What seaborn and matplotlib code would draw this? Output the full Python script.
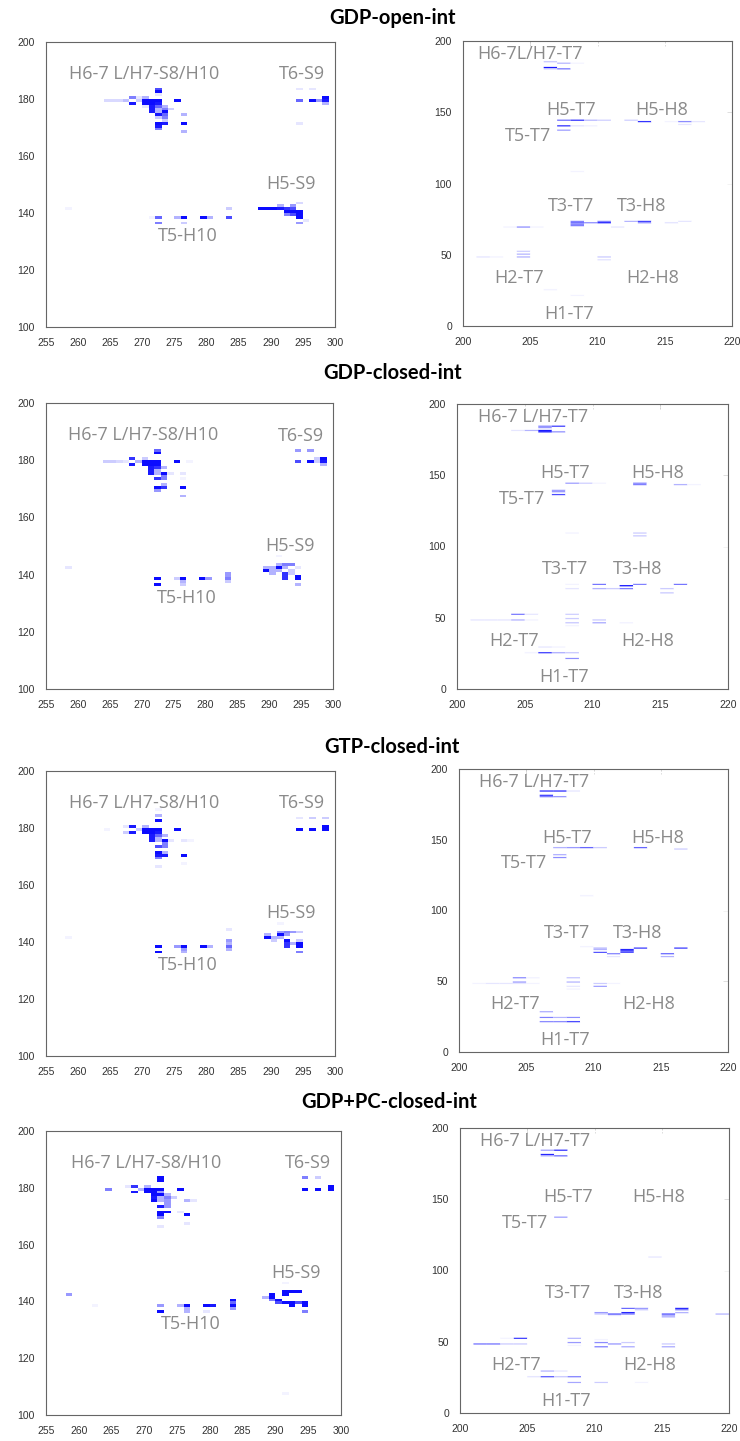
import pandas as pd
import seaborn as sns
import matplotlib.pyplot as plt

# contact cells per panel: (residue x, residue y, contact frequency)
open_s9 = [
    (264, 179, 0.15), (265, 179, 0.15), (266, 179, 0.15), (267, 179, 0.25),
    (268, 180, 0.5), (268, 178, 0.9), (269, 179, 0.2), (269, 180, 0.1),
    (270, 180, 0.3), (270, 179, 0.95), (270, 178, 0.95), (270, 177, 0.1),
    (271, 179, 0.95), (271, 178, 0.95), (271, 177, 0.9), (271, 176, 0.9), (271, 175, 0.9),
    (272, 183, 0.7), (272, 182, 0.95), (272, 181, 0.1), (272, 179, 0.95), (272, 178, 0.9),
    (272, 177, 0.6), (272, 176, 0.3), (272, 175, 0.3), (272, 174, 0.9), (272, 173, 0.2),
    (272, 171, 0.95), (272, 170, 0.9), (272, 169, 0.5),
    (273, 177, 0.3), (273, 176, 0.5), (273, 175, 0.95), (273, 174, 0.6), (273, 173, 0.5),
    (273, 172, 0.2), (273, 171, 0.9), (274, 176, 0.2),
    (275, 179, 0.95), (276, 174, 0.3), (276, 171, 0.95), (276, 168, 0.3),
    (294, 183, 0.1), (294, 179, 0.6), (294, 171, 0.1), (296, 183, 0.1), (296, 179, 0.95),
    (297, 179, 0.4), (298, 180, 0.95), (298, 179, 0.9), (298, 178, 0.3),
    (288, 141, 0.95), (289, 141, 0.95), (290, 141, 0.95), (291, 141, 0.9), (291, 142, 0.3),
    (292, 141, 0.8), (292, 140, 0.95), (292, 139, 0.5), (293, 142, 0.4), (293, 141, 0.7),
    (293, 140, 0.95), (293, 139, 0.7), (294, 143, 0.15), (294, 140, 0.95), (294, 139, 0.95),
    (294, 138, 0.95), (294, 136, 0.4), (295, 137, 0.1),
    (272, 138, 0.6), (272, 136, 0.5), (275, 138, 0.3), (276, 138, 0.95), (276, 136, 0.2),
    (279, 138, 0.95), (280, 138, 0.3), (283, 141, 0.2), (283, 138, 0.7),
    (258, 141, 0.05), (271, 138, 0.05),
]

open_t7 = [
    (206, 185, 0.2), (207, 184, 0.3), (208, 184, 0.05), (206, 181, 0.9), (206, 180, 0.2),
    (207, 180, 0.5),
    (207, 144, 0.6), (208, 144, 0.85), (209, 144, 0.3), (210, 144, 0.2),
    (207, 140, 0.75), (207, 137, 0.4), (208, 140, 0.1), (209, 140, 0.05),
    (212, 144, 0.2), (213, 143, 0.8), (215, 143, 0.05), (216, 143, 0.45), (217, 143, 0.1),
    (216, 141, 0.1), (208, 108, 0.05),
    (203, 69, 0.05), (204, 69, 0.45), (205, 69, 0.05),
    (208, 73, 0.5), (208, 72, 0.55), (208, 71, 0.55), (208, 70, 0.5), (209, 72, 0.4),
    (210, 73, 0.5), (210, 72, 0.8), (211, 69, 0.1), (212, 73, 0.3), (213, 73, 0.75),
    (213, 72, 0.4), (215, 72, 0.1), (216, 73, 0.1),
    (201, 48, 0.1), (202, 48, 0.05), (204, 52, 0.2), (204, 50, 0.3), (204, 48, 0.3),
    (210, 48, 0.2), (210, 46, 0.1), (206, 25, 0.05), (208, 21, 0.05),
]

closed_s9 = [
    (264, 179, 0.2), (265, 179, 0.2), (266, 179, 0.15), (267, 179, 0.1),
    (268, 180, 0.8), (268, 178, 0.9), (269, 179, 0.3), (270, 180, 0.2),
    (270, 179, 0.95), (270, 178, 0.95), (271, 179, 0.95), (271, 178, 0.95),
    (271, 177, 0.9), (271, 176, 0.9), (271, 175, 0.9),
    (272, 183, 0.6), (272, 182, 0.95), (272, 179, 0.95), (272, 178, 0.95), (272, 177, 0.8),
    (272, 176, 0.3), (272, 175, 0.3), (272, 173, 0.8), (272, 170, 0.95), (272, 169, 0.4),
    (273, 177, 0.3), (273, 175, 0.95), (273, 174, 0.5), (273, 173, 0.5), (273, 171, 0.3),
    (273, 170, 0.8), (274, 175, 0.1), (275, 179, 0.95), (276, 175, 0.1), (276, 173, 0.05),
    (276, 170, 0.95), (276, 167, 0.3), (277, 179, 0.05),
    (294, 183, 0.4), (296, 183, 0.4), (294, 179, 0.7), (296, 179, 0.95), (297, 180, 0.2),
    (297, 179, 0.2), (298, 180, 0.95), (298, 179, 0.9), (298, 178, 0.3),
    (289, 141, 0.95), (289, 142, 0.3), (290, 142, 0.3), (290, 141, 0.3), (290, 140, 0.3),
    (291, 143, 0.3), (291, 142, 0.95), (291, 141, 0.3), (292, 143, 0.5), (292, 142, 0.3),
    (292, 140, 0.8), (292, 139, 0.8), (292, 138, 0.8), (293, 143, 0.5), (293, 141, 0.2),
    (293, 140, 0.2), (294, 142, 0.1), (294, 139, 0.95), (294, 138, 0.95), (294, 136, 0.3),
    (291, 146, 0.05),
    (272, 138, 0.95), (272, 136, 0.95), (275, 138, 0.2), (276, 138, 0.95), (276, 137, 0.3),
    (276, 136, 0.2), (279, 138, 0.95), (280, 138, 0.4), (283, 140, 0.4), (283, 139, 0.4),
    (283, 138, 0.5), (283, 137, 0.2), (258, 142, 0.1),
]

closed_t7 = [
    (204, 181, 0.1), (205, 181, 0.3), (206, 184, 0.5), (206, 183, 0.4), (206, 181, 0.9),
    (206, 180, 0.85), (207, 184, 0.8), (207, 180, 0.4),
    (207, 139, 0.4), (207, 138, 0.4), (207, 136, 0.7), (208, 144, 0.4), (209, 144, 0.2),
    (210, 144, 0.05), (213, 144, 0.5), (213, 143, 0.5), (216, 143, 0.3), (217, 143, 0.05),
    (208, 109, 0.05), (213, 109, 0.2), (213, 107, 0.2),
    (208, 73, 0.05), (208, 70, 0.1), (210, 73, 0.55), (210, 70, 0.3), (211, 70, 0.2),
    (212, 72, 0.85), (212, 70, 0.5), (213, 73, 0.5), (215, 70, 0.2), (215, 67, 0.2),
    (216, 73, 0.55),
    (201, 48, 0.1), (202, 48, 0.1), (203, 48, 0.1), (204, 52, 0.55), (204, 48, 0.3),
    (205, 52, 0.1), (205, 48, 0.05), (208, 52, 0.2), (208, 49, 0.2), (208, 46, 0.2),
    (208, 44, 0.05), (210, 48, 0.2), (210, 46, 0.3), (212, 46, 0.05),
    (206, 29, 0.1), (207, 29, 0.05), (205, 25, 0.05), (206, 25, 0.7), (207, 25, 0.3),
    (208, 25, 0.2), (208, 21, 0.45),
]

gtp_s9 = [
    (264, 179, 0.05), (267, 180, 0.1), (267, 178, 0.2), (268, 180, 0.9), (268, 178, 0.9),
    (269, 179, 0.2), (270, 180, 0.3), (270, 179, 0.95), (270, 178, 0.95),
    (271, 179, 0.95), (271, 178, 0.95), (271, 177, 0.9), (271, 176, 0.9), (271, 175, 0.9),
    (272, 186, 0.05), (272, 184, 0.3), (272, 182, 0.95), (272, 179, 0.95), (272, 178, 0.9),
    (272, 177, 0.6), (272, 176, 0.3), (272, 175, 0.3), (272, 173, 0.7), (272, 171, 0.95),
    (272, 170, 0.9), (272, 169, 0.5), (272, 166, 0.1),
    (273, 177, 0.3), (273, 175, 0.95), (273, 174, 0.5), (273, 173, 0.5), (273, 171, 0.3),
    (273, 170, 0.9), (274, 175, 0.1), (275, 179, 0.95), (276, 175, 0.1), (276, 170, 0.95),
    (276, 167, 0.05), (277, 175, 0.05),
    (294, 183, 0.1), (296, 183, 0.2), (298, 183, 0.2), (294, 179, 0.95), (296, 179, 0.95),
    (298, 180, 0.95), (298, 179, 0.95),
    (289, 141, 0.95), (289, 142, 0.3), (290, 141, 0.3), (290, 140, 0.2), (291, 142, 0.95),
    (291, 143, 0.4), (291, 141, 0.3), (292, 143, 0.5), (292, 142, 0.4), (292, 140, 0.95),
    (292, 139, 0.8), (292, 138, 0.8), (293, 143, 0.4), (293, 139, 0.3), (294, 143, 0.2),
    (294, 140, 0.2), (294, 139, 0.95), (294, 138, 0.95), (294, 136, 0.5), (291, 146, 0.05),
    (272, 138, 0.95), (272, 136, 0.95), (275, 138, 0.4), (276, 138, 0.95), (276, 137, 0.4),
    (276, 136, 0.3), (279, 138, 0.95), (280, 138, 0.3), (283, 144, 0.1), (283, 140, 0.4),
    (283, 139, 0.3), (283, 138, 0.6), (283, 137, 0.3), (258, 141, 0.05),
]

gtp_t7 = [
    (206, 184, 0.85), (207, 184, 0.85), (208, 184, 0.1), (206, 181, 0.8), (206, 180, 0.5),
    (207, 180, 0.4),
    (207, 144, 0.3), (208, 144, 0.4), (209, 144, 0.6), (210, 144, 0.2), (207, 139, 0.3),
    (207, 137, 0.45), (213, 144, 0.6), (216, 143, 0.2), (209, 110, 0.05),
    (209, 74, 0.05), (210, 73, 0.3), (210, 72, 0.3), (210, 70, 0.7), (211, 69, 0.45),
    (211, 67, 0.1), (212, 72, 0.85), (212, 71, 0.8), (212, 70, 0.7), (213, 73, 0.8),
    (215, 69, 0.55), (215, 67, 0.3), (216, 73, 0.8),
    (201, 48, 0.05), (202, 48, 0.1), (203, 48, 0.1), (204, 48, 0.1), (204, 52, 0.4),
    (204, 49, 0.4), (205, 52, 0.05), (205, 48, 0.05), (208, 52, 0.2), (208, 49, 0.3),
    (208, 46, 0.1), (208, 44, 0.05), (210, 48, 0.2), (210, 46, 0.4), (211, 48, 0.05),
    (206, 28, 0.3), (206, 24, 0.5), (207, 24, 0.3), (208, 24, 0.45), (206, 21, 0.45),
    (207, 21, 0.45), (208, 21, 0.7),
]

pc_s9 = [
    (264, 179, 0.5), (267, 180, 0.1), (268, 180, 0.8), (268, 178, 0.9), (269, 179, 0.3),
    (270, 180, 0.3), (270, 179, 0.95), (270, 178, 0.95), (271, 179, 0.95), (271, 178, 0.95),
    (271, 177, 0.95), (271, 176, 0.9), (271, 175, 0.95),
    (272, 183, 0.95), (272, 182, 0.95), (272, 179, 0.95), (272, 178, 0.4), (272, 177, 0.95),
    (272, 176, 0.3), (272, 175, 0.3), (272, 173, 0.9), (272, 171, 0.95), (272, 170, 0.95),
    (272, 169, 0.5), (272, 166, 0.1),
    (273, 177, 0.3), (273, 176, 0.5), (273, 175, 0.4), (273, 174, 0.4), (273, 173, 0.4),
    (273, 171, 0.95), (274, 176, 0.2), (275, 179, 0.95), (275, 171, 0.1), (276, 175, 0.3),
    (276, 170, 0.95), (276, 167, 0.1), (277, 175, 0.1),
    (294, 183, 0.5), (296, 183, 0.2), (294, 179, 0.95), (296, 179, 0.95), (298, 180, 0.95),
    (298, 179, 0.95),
    (288, 141, 0.3), (289, 142, 0.95), (289, 141, 0.95), (289, 140, 0.5), (290, 140, 0.95),
    (290, 139, 0.7), (291, 143, 0.95), (291, 142, 0.95), (291, 139, 0.95), (292, 143, 0.95),
    (292, 139, 0.95), (292, 138, 0.95), (293, 143, 0.95), (293, 139, 0.7), (294, 139, 0.95),
    (294, 138, 0.95), (294, 136, 0.5), (291, 146, 0.05), (291, 107, 0.05),
    (272, 138, 0.4), (272, 136, 0.95), (275, 138, 0.3), (276, 138, 0.95), (276, 137, 0.3),
    (276, 136, 0.3), (279, 138, 0.95), (280, 138, 0.9), (279, 136, 0.1), (283, 140, 0.95),
    (283, 139, 0.6), (283, 138, 0.95), (283, 137, 0.4), (258, 142, 0.4), (262, 138, 0.05),
]

pc_t7 = [
    (206, 184, 0.4), (207, 184, 0.85), (206, 181, 0.85), (206, 180, 0.3), (207, 180, 0.55),
    (207, 137, 0.4), (214, 109, 0.1),
    (210, 70, 0.4), (210, 69, 0.2), (211, 69, 0.7), (211, 68, 0.1), (212, 73, 0.6),
    (212, 70, 0.85), (212, 69, 0.5), (213, 73, 0.4), (213, 72, 0.2), (215, 69, 0.7),
    (215, 68, 0.3), (215, 67, 0.3), (216, 73, 0.85), (216, 72, 0.5), (216, 70, 0.3),
    (219, 69, 0.3),
    (201, 48, 0.55), (202, 48, 0.55), (203, 48, 0.2), (203, 52, 0.05), (204, 52, 0.8),
    (204, 48, 0.2), (208, 52, 0.3), (208, 49, 0.4), (208, 47, 0.05), (210, 51, 0.05),
    (210, 49, 0.45), (210, 46, 0.45), (211, 48, 0.4), (212, 49, 0.2), (212, 46, 0.3),
    (215, 48, 0.2), (215, 46, 0.3),
    (206, 29, 0.3), (207, 29, 0.1), (205, 25, 0.1), (206, 25, 0.6), (207, 25, 0.2),
    (208, 25, 0.45), (208, 21, 0.35), (210, 21, 0.2), (213, 21, 0.05),
]

row_titles = ["GDP-open-int", "GDP-closed-int", "GTP-closed-int", "GDP+PC-closed-int"]
left_cells = [open_s9, closed_s9, gtp_s9, pc_s9]
right_cells = [open_t7, closed_t7, gtp_t7, pc_t7]

left_xticks = list(range(255, 301, 5))
left_yticks = list(range(100, 201, 20))
right_xticks = list(range(200, 221, 5))
right_yticks = list(range(0, 201, 50))

left_labels = [("H6-7 L/H7-S8/H10", 270.3, 188.9), ("T6-S9", 294.9, 188.6),
               ("H5-S9", 293.2, 150.1), ("T5-H10", 277.1, 131.9)]
right_labels = [("H6-7 L/H7-T7", 205.6, 190.6), ("H5-T7", 208.0, 151.5),
                ("H5-H8", 214.8, 151.5), ("T5-T7", 204.8, 133.6),
                ("T3-T7", 208.0, 84.3), ("T3-H8", 213.3, 84.3),
                ("H2-T7", 204.2, 33.6), ("H2-H8", 214.1, 33.6),
                ("H1-T7", 207.9, 8.5)]

# panel boxes in pixels: left, right, top, bottom
left_boxes = [(46, 335, 42, 327), (46, 333, 403, 689), (46, 335, 771, 1056), (46, 341, 1131, 1415)]
right_boxes = [(463, 732, 41, 326), (457, 728, 404, 689), (459, 728, 769, 1052), (460, 729, 1128, 1413)]
title_pos = [(392, 18), (393, 373), (392, 747), (389, 1102)]

W, H = 740, 1441

sns.set_theme(style="white")
plt.rcParams['font.family'] = ['Liberation Sans', 'DejaVu Sans']

cmap = sns.blend_palette(["#ffffff", "#0000ff"], as_cmap=True)


def draw_panel(ax, cells, xlo, xhi, ylo, yhi, xticks, yticks, labels, soft=False):
    df = pd.DataFrame(cells, columns=['x', 'y', 'v'])
    grid = (df.pivot_table(index='y', columns='x', values='v', aggfunc='max')
              .reindex(index=range(ylo, yhi), columns=range(xlo, xhi))
              .fillna(0))
    sns.heatmap(grid, ax=ax, cmap=cmap, vmin=0, vmax=1, cbar=False,
                xticklabels=False, yticklabels=False,
                linewidths=0, linecolor='none', antialiased=soft)
    if soft:
        # rows are thinner than 2 px here, let them spread softly
        ax.collections[0].set_snap(False)
    ax.set_xlim(0, xhi - xlo)
    ax.set_ylim(0, yhi - ylo)
    ax.set_xticks([t - xlo for t in xticks])
    ax.set_xticklabels([str(t) for t in xticks])
    ax.set_yticks([t - ylo for t in yticks])
    ax.set_yticklabels([str(t) for t in yticks])
    ax.set_xlabel('')
    ax.set_ylabel('')
    ax.tick_params(direction='in', top=True, right=True, length=3.5, width=0.7,
                   color='#555555', labelsize=7.5, labelcolor='#333333', pad=8)
    for sp in ax.spines.values():
        sp.set_visible(True)
        sp.set_color('#666666')
        sp.set_linewidth(0.8)
    for text, x, y in labels:
        ax.text(x - xlo, y - ylo, text, ha='center', va='center', fontsize=13,
                color='#8a8a8a', family=['Open Sans', 'DejaVu Sans'])


fig = plt.figure(figsize=(W / 100, H / 100), dpi=100)

for i in range(4):
    l, r, t, b = left_boxes[i]
    ax = fig.add_axes([l / W, 1 - b / H, (r - l) / W, (b - t) / H])
    draw_panel(ax, left_cells[i], 255, 300, 100, 200, left_xticks, left_yticks, left_labels)

    l, r, t, b = right_boxes[i]
    ax = fig.add_axes([l / W, 1 - b / H, (r - l) / W, (b - t) / H])
    labels = list(right_labels)
    if i == 0:
        labels[0] = ("H6-7L/H7-T7", 205.0, 191.1)
    draw_panel(ax, right_cells[i], 200, 220, 0, 200, right_xticks, right_yticks, labels,
               soft=True)

    tx, ty = title_pos[i]
    fig.text(tx / W, 1 - ty / H, row_titles[i], ha='center', va='center',
             fontsize=14.5, fontweight='bold', color='black', family=['Lato', 'DejaVu Sans'])

fig.savefig('out.png', dpi=100)
plt.close(fig)
